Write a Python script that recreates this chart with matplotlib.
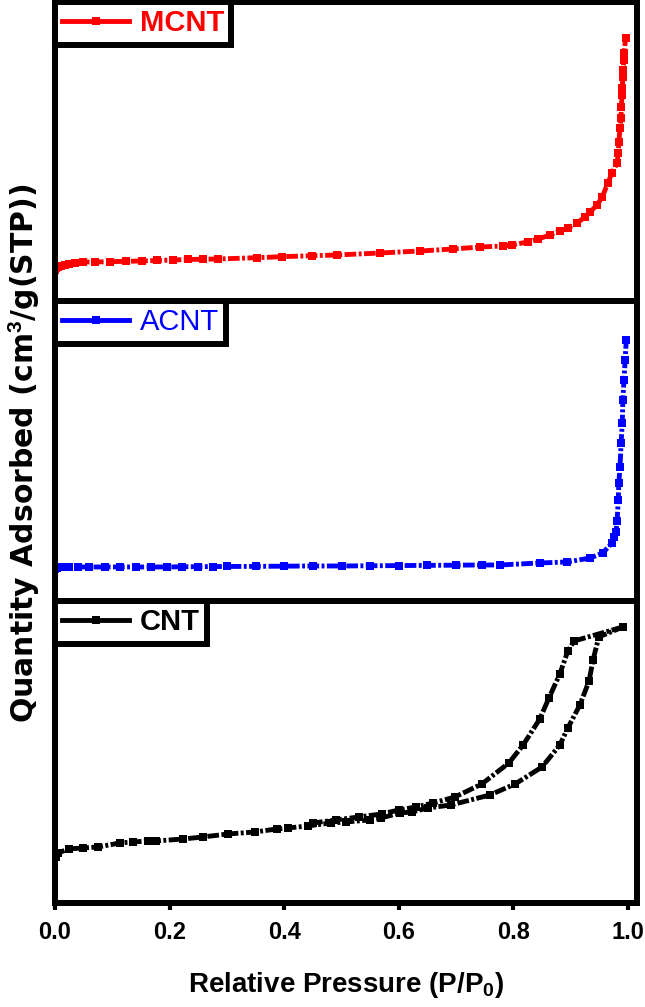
import matplotlib
matplotlib.use("Agg")
import matplotlib.pyplot as plt
from matplotlib.lines import Line2D

# DATA (arbitrary y units)
mcnt_x = [0.000, 0.002, 0.005, 0.010, 0.017, 0.025, 0.035, 0.049, 0.070, 0.096,
          0.124, 0.152, 0.178, 0.206, 0.232, 0.258, 0.284, 0.353, 0.396, 0.449,
          0.492, 0.567, 0.637, 0.695, 0.742, 0.782, 0.797, 0.825, 0.843, 0.864,
          0.881, 0.895, 0.911, 0.925, 0.934, 0.946, 0.955, 0.965, 0.972, 0.981,
          0.983, 0.984, 0.986, 0.988, 0.988, 0.990, 0.990, 0.991, 0.991, 0.993,
          0.993, 0.996]
mcnt_y = [30, 32, 33, 34, 35, 36, 37, 38, 38.0, 38.3,
          38.7, 39.0, 39.5, 40.0, 40.5, 40.8, 41.0, 42.3, 43.3, 44.3,
          45.0, 47, 49, 51, 53, 54, 55, 58, 61, 65,
          69, 72, 77, 83, 88, 95, 103, 117, 127, 137,
          147, 158, 172, 182, 193, 205, 212, 223, 230, 240,
          247, 262]

acnt_x = [0.000, 0.003, 0.008, 0.015, 0.025, 0.040, 0.060, 0.087, 0.114, 0.141,
          0.168, 0.195, 0.222, 0.249, 0.276, 0.300, 0.350, 0.400, 0.450, 0.500,
          0.550, 0.600, 0.650, 0.700, 0.745, 0.777, 0.846, 0.894, 0.934, 0.956,
          0.972, 0.976, 0.979, 0.981, 0.983, 0.984, 0.986, 0.988, 0.990, 0.991,
          0.993, 0.995, 0.997]
acnt_y = [32, 33, 33.5, 34, 34, 34, 34, 34, 34, 34,
          34, 34, 34.2, 34.3, 34.4, 34.5, 34.6, 34.8, 35, 35,
          35.2, 35.4, 35.6, 35.8, 36, 36, 38, 39, 43, 48,
          58, 64, 69, 80, 101, 118, 134, 158, 178, 201,
          221, 241, 261]

cnt_ads_x = [0.001, 0.005, 0.024, 0.048, 0.075, 0.113, 0.136, 0.163, 0.176, 0.224,
             0.258, 0.302, 0.349, 0.387, 0.407, 0.441, 0.482, 0.508, 0.549, 0.569,
             0.602, 0.623, 0.651, 0.691, 0.759, 0.803, 0.850, 0.881, 0.895, 0.916,
             0.932, 0.939, 0.949, 0.991]
cnt_ads_y = [46, 50, 54, 55, 56, 60, 61, 62, 62, 64,
             66, 69, 71, 74, 75, 77, 80, 81, 83, 85,
             90, 91, 95, 98, 108, 119, 136, 158, 175, 198,
             222, 243, 266, 276]

cnt_des_x = [0.991, 0.906, 0.895, 0.881, 0.862, 0.846, 0.817, 0.792, 0.745, 0.698,
             0.660, 0.630, 0.600, 0.570, 0.530, 0.490, 0.450]
cnt_des_y = [276, 262, 252, 229, 205, 184, 158, 140, 119, 106,
             100, 96, 93, 89, 86, 83, 80]

x_ticks = [0.0, 0.2, 0.4, 0.6, 0.8, 1.0]

# STYLE
plt.rcParams['font.family'] = ['Liberation Sans', 'DejaVu Sans']
plt.rcParams['mathtext.fontset'] = 'custom'
plt.rcParams['mathtext.bf'] = 'Liberation Sans:bold'
plt.rcParams['mathtext.default'] = 'bf'

SPINE_W = 4.3
LINE_W = 3.5
MARK_S = 6.2
DASHES = (2.4, 0.5, 0.6, 0.5)

fig = plt.figure(figsize=(6.45, 10.07), dpi=100)

left, width = 0.0853, 0.9023
ax_top = fig.add_axes([left, 0.7011, width, 0.2969])
ax_mid = fig.add_axes([left, 0.4032, width, 0.2979])
ax_bot = fig.add_axes([left, 0.1033, width, 0.2999])


def draw_panel(ax, series, color, label, weight, ylim):
    for xs, ys in series:
        ax.plot(xs, ys, color=color, lw=LINE_W, dashes=DASHES,
                marker='s', ms=MARK_S, mew=0)
    ax.set_xlim(0, 1.0157)
    ax.set_ylim(*ylim)
    ax.set_yticks([])
    for sp in ax.spines.values():
        sp.set_linewidth(SPINE_W)
    handle = Line2D([0], [0], color=color, lw=LINE_W, ls='-',
                    marker='s', ms=MARK_S, mew=0)
    leg = ax.legend([handle], [label], loc='upper left',
                    bbox_to_anchor=(0, 1), borderaxespad=0,
                    borderpad=0.25, handlelength=2.3, handletextpad=0.35,
                    fancybox=False, framealpha=1, labelcolor=color,
                    prop={'family': 'Liberation Sans', 'weight': weight, 'size': 21})
    leg.get_frame().set_edgecolor('black')
    leg.get_frame().set_linewidth(SPINE_W)


# 1. MCNT
draw_panel(ax_top, [(mcnt_x, mcnt_y)], '#FF0000', 'MCNT', 'bold', (-1, 298))
ax_top.tick_params(axis='x', bottom=False, labelbottom=False)

# 2. ACNT
draw_panel(ax_mid, [(acnt_x, acnt_y)], '#0000FF', 'ACNT', 'normal', (0, 300))
ax_mid.tick_params(axis='x', bottom=False, labelbottom=False)

# 3. CNT (adsorption + desorption)
draw_panel(ax_bot, [(cnt_ads_x, cnt_ads_y), (cnt_des_x, cnt_des_y)],
           'black', 'CNT', 'bold', (0, 302))
ax_bot.set_xticks(x_ticks)
ax_bot.set_xticklabels([f"{t:.1f}" for t in x_ticks],
                       fontsize=17, fontweight='bold')
ax_bot.tick_params(axis='x', direction='out', length=5, width=3, pad=8)
ax_bot.set_xlabel("Relative Pressure (P/P$_0$)", fontsize=20,
                  fontweight='bold', labelpad=19)

fig.text(24 / 645, 0.5497, "Quantity Adsorbed (cm$^3$/g(STP))",
         rotation=90, ha='center', va='center', fontsize=21.5,
         fontweight='bold', family='DejaVu Sans')

fig.savefig("out.png", dpi=100)
